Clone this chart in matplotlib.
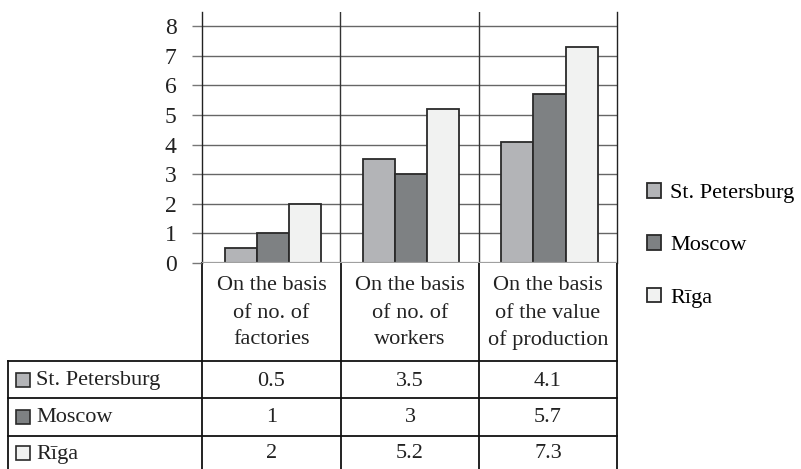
import matplotlib
matplotlib.use("Agg")
import matplotlib.pyplot as plt
from matplotlib.patches import Rectangle
import numpy as np

# --- data -----------------------------------------------------------------
categories = [
    "On the basis\nof no. of\nfactories",
    "On the basis\nof no. of\nworkers",
    "On the basis\nof the value\nof production",
]
cities = ["St. Petersburg", "Moscow", "Rīga"]
st_petersburg = [0.5, 3.5, 4.1]
moscow = [1, 3, 5.7]
riga = [2, 5.2, 7.3]
yticks = [0, 1, 2, 3, 4, 5, 6, 7, 8]

series = [st_petersburg, moscow, riga]
colors = ["#b3b4b7", "#7e8183", "#f1f2f1"]
edge = "#2a2a2a"

plt.rcParams["font.family"] = ["Liberation Serif", "DejaVu Serif"]
FS = 16

W, H = 801, 469
fig = plt.figure(figsize=(W / 100, H / 100), dpi=100)

# pixel-based layout helpers
def fx(px):
    return px / W

def fy(py):
    return 1 - py / H

x0, x1, ytop, ybot = 202, 617, 12, 263
unit = 29.6  # pixels per y unit

ax = fig.add_axes([fx(x0), fy(ybot), fx(x1 - x0), (ybot - ytop) / H])
ax.set_xlim(-0.5, len(categories) - 0.5)
ax.set_ylim(0, (ybot - ytop) / unit)

x = np.arange(len(categories))
bw = 0.232
handles = []
for i, (vals, c, name) in enumerate(zip(series, colors, cities)):
    b = ax.bar(x + (i - 1) * bw + 0.012, vals, width=bw, color=c,
               edgecolor=edge, linewidth=1.3, zorder=3, label=name)
    handles.append(b)

# grid and axes styling
ax.set_yticks(yticks)
ax.set_yticklabels([str(t) for t in yticks], fontsize=17, color="#222")
ax.tick_params(axis="y", length=7.2, width=1, color="#777", pad=11)
ax.set_xticks([])
for yv in yticks[1:]:
    ax.axhline(yv, color="#666", lw=1, zorder=1)
ax.axhline(0, color="#a0a0a0", lw=1.6, zorder=4)
for xv in x[:-1] + 0.5:
    ax.axvline(xv, color="#333", lw=1, zorder=1)
for s in ["top", "bottom"]:
    ax.spines[s].set_visible(False)
for s in ["left", "right"]:
    ax.spines[s].set_color("#222")
    ax.spines[s].set_linewidth(1)

# --- data table below the chart ------------------------------------------
tab = fig.add_axes([0, 0, 1, 1], zorder=-1)
tab.set_xlim(0, W)
tab.set_ylim(H, 0)
tab.axis("off")

col_edges = [202, 341, 479, 617]
row_edges = [361, 398, 436, 474]
left = 8
centers = [(a + b) / 2 for a, b in zip(col_edges[:-1], col_edges[1:])]

for xe in col_edges:
    tab.plot([xe, xe], [ybot, H], color="#111", lw=1.3)
tab.plot([left, left], [row_edges[0], H], color="#111", lw=1.3)
for ye in row_edges:
    tab.plot([left, col_edges[-1]], [ye, ye], color="#111", lw=1.3)

# category headers
line_y = [286, 313, 340]
for cx, cat in zip(centers, categories):
    for ly, line in zip(line_y, cat.split("\n")):
        tab.text(cx, ly, line, ha="center", va="center", fontsize=FS,
                 color="#222")

# rows: swatch, city name, values
row_centers = [381, 418, 454]
for yc, vals, c, name in zip(row_centers, series, colors, cities):
    tab.add_patch(Rectangle((16, yc - 7.5), 14, 14, facecolor=c,
                            edgecolor=edge, lw=1.2))
    tab.text(36, yc, name, ha="left", va="center", fontsize=FS, color="#222")
    for cx, v in zip(centers, vals):
        tab.text(cx, yc, f"{v:g}", ha="center", va="center", fontsize=FS,
                 color="#222")

# legend on the right
fig.legend(handles=handles, labels=cities, loc="upper left",
           bbox_to_anchor=(fx(647), fy(183)), frameon=False, fontsize=FS,
           handlelength=0.63, handleheight=0.63, handletextpad=0.4,
           labelspacing=1.45, borderaxespad=0, borderpad=0)

fig.savefig("out.png", dpi=100)
